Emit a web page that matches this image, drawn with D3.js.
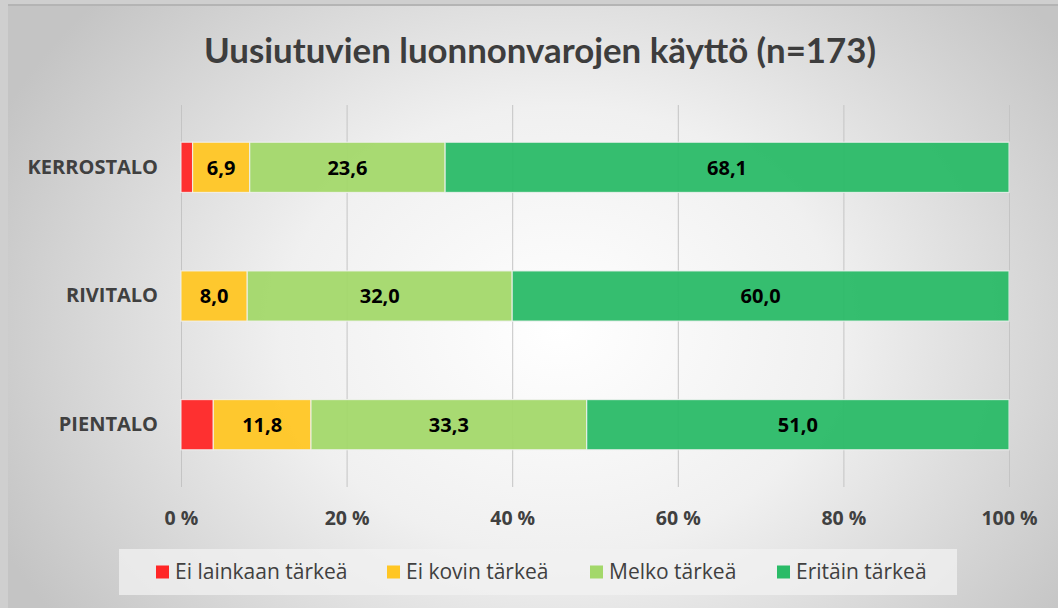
<!DOCTYPE html>
<html>
<head>
<meta charset="utf-8">
<script src="https://cdn.jsdelivr.net/npm/d3@7"></script>
<style>
  html, body { margin: 0; padding: 0; background: #c9c9c9; }
  svg { display: block; }
</style>
</head>
<body>
<div id="chart"></div>
<script>
// Set up conventions
let width = 1058;
let height = 608;
let margin = ({top: 105, right: 49, bottom: 121, left: 181});

let categories = ["KERROSTALO", "RIVITALO", "PIENTALO"];
let series = ["Ei lainkaan tärkeä", "Ei kovin tärkeä", "Melko tärkeä", "Eritäin tärkeä"];
let colors = ["#ff2626", "#ffc624", "#a3d86a", "#2abb67"];
let eiLainkaan = [1.4, 0, 3.9];
let eiKovin = [6.9, 8.0, 11.8];
let melko = [23.6, 32.0, 33.3];
let eritain = [68.1, 60.0, 51.0];
let tickValues = [0, 20, 40, 60, 80, 100];

let title = "Uusiutuvien luonnonvarojen käyttö (n=173)";
let fontFamily = "'Open Sans', Lato, sans-serif";

// table for d3.stack
let table = categories.map((c, i) => ({
    cat: c,
    [series[0]]: eiLainkaan[i],
    [series[1]]: eiKovin[i],
    [series[2]]: melko[i],
    [series[3]]: eritain[i]
}));

let stacked = d3.stack().keys(series)(table);

let svg = d3.select("#chart")
    .append("svg")
    .attr("width", width)
    .attr("height", height);

// background gradient
let defs = svg.append("defs");
let grad = defs.append("radialGradient")
    .attr("id", "bg")
    .attr("gradientUnits", "userSpaceOnUse")
    .attr("cx", 560).attr("cy", 330).attr("r", 620)
    .attr("gradientTransform", "translate(560,330) scale(1,0.8) translate(-560,-330)");
grad.append("stop").attr("offset", "0%").attr("stop-color", "#ffffff");
grad.append("stop").attr("offset", "45%").attr("stop-color", "#f0f0f0");
grad.append("stop").attr("offset", "100%").attr("stop-color", "#c4c4c4");

svg.append("rect")
    .attr("width", width).attr("height", height)
    .attr("fill", "#cfcfcf");
svg.append("rect")
    .attr("x", 8).attr("y", 5)
    .attr("width", width - 8).attr("height", height - 5)
    .attr("fill", "url(#bg)");
svg.append("rect")
    .attr("x", 8).attr("y", 4)
    .attr("width", width - 8).attr("height", 2)
    .attr("fill", "#b4b4b4");

// Title
svg.append("text")
    .attr("x", 540)
    .attr("y", 63)
    .attr("text-anchor", "middle")
    .attr("font-family", "Lato, 'Open Sans', sans-serif")
    .attr("font-weight", "bold")
    .attr("font-size", 34)
    .attr("fill", "#3d3d3d")
    .attr("textLength", 672)
    .attr("lengthAdjust", "spacingAndGlyphs")
    .text(title);

// scales
let xScale = d3.scaleLinear()
    .domain([0, 100])
    .range([margin.left, width - margin.right]);

let yScale = d3.scaleBand()
    .domain(categories)
    .range([margin.top - 2, height - margin.bottom + 2])
    .paddingInner(0.61)
    .paddingOuter(0.305);

// gridlines
svg.append("g")
    .selectAll("line")
    .data(tickValues)
    .enter()
    .append("line")
    .attr("x1", d => xScale(d) + 0.5)
    .attr("x2", d => xScale(d) + 0.5)
    .attr("y1", margin.top)
    .attr("y2", height - margin.bottom)
    .attr("stroke", "#c4c4c4")
    .attr("stroke-width", 1);

// x axis labels
let xAxis = d3.axisBottom(xScale)
    .tickValues(tickValues)
    .tickSize(0)
    .tickPadding(0)
    .tickFormat(d => d + " %");

let gx = svg.append("g")
    .attr("transform", "translate(0," + (height - margin.bottom) + ")")
    .call(xAxis);
gx.select(".domain").remove();
gx.selectAll("text")
    .attr("y", 31)
    .attr("dy", "0.35em")
    .attr("font-family", fontFamily)
    .attr("font-weight", "bold")
    .attr("font-size", 19.5)
    .attr("fill", "#404040");

// y axis labels
let yAxis = d3.axisLeft(yScale).tickSize(0).tickPadding(23);
let gy = svg.append("g")
    .attr("transform", "translate(" + margin.left + ",0)")
    .call(yAxis);
gy.select(".domain").remove();
gy.selectAll("text")
    .attr("font-family", fontFamily)
    .attr("font-weight", "bold")
    .attr("font-size", 20)
    .attr("fill", "#404040");

// bars
let layers = svg.append("g")
    .selectAll("g")
    .data(stacked)
    .enter()
    .append("g")
    .attr("fill", (d, i) => colors[i]);

layers.selectAll("rect")
    .data(d => d)
    .enter()
    .append("rect")
    .filter(d => d[1] - d[0] > 0)
    .attr("x", d => xScale(d[0]))
    .attr("y", d => yScale(d.data.cat))
    .attr("width", d => xScale(d[1]) - xScale(d[0]))
    .attr("height", yScale.bandwidth())
    .attr("fill-opacity", 0.95)
    .attr("stroke", "#f2f2f2")
    .attr("stroke-opacity", 0.8)
    .attr("stroke-width", 1.2);

// data labels (first series not labelled)
layers.filter((d, i) => i > 0)
    .selectAll("text")
    .data(d => d)
    .enter()
    .append("text")
    .filter(d => d[1] - d[0] > 0)
    .attr("x", d => xScale((d[0] + d[1]) / 2))
    .attr("y", d => yScale(d.data.cat) + yScale.bandwidth() / 2)
    .attr("dy", "0.36em")
    .attr("text-anchor", "middle")
    .attr("font-family", fontFamily)
    .attr("font-weight", "bold")
    .attr("font-size", 20)
    .attr("fill", "#000000")
    .text(d => (d[1] - d[0]).toFixed(1).replace(".", ","));

// legend
let legend = svg.append("g");
legend.append("rect")
    .attr("x", 119).attr("y", 549)
    .attr("width", 838).attr("height", 46)
    .attr("fill", "#f2f2f2")
    .attr("fill-opacity", 0.75);

let legendX = [156, 387, 590, 777];
let items = legend.selectAll(".item")
    .data(series)
    .enter()
    .append("g")
    .attr("class", "item")
    .attr("transform", (d, i) => "translate(" + legendX[i] + ",572)");

items.append("rect")
    .attr("x", 0).attr("y", -6.5)
    .attr("width", 13).attr("height", 13)
    .attr("fill", (d, i) => colors[i]);

items.append("text")
    .attr("x", 19)
    .attr("dy", "0.35em")
    .attr("font-family", fontFamily)
    .attr("font-size", 21)
    .attr("fill", "#404040")
    .text(d => d);
</script>
</body>
</html>
